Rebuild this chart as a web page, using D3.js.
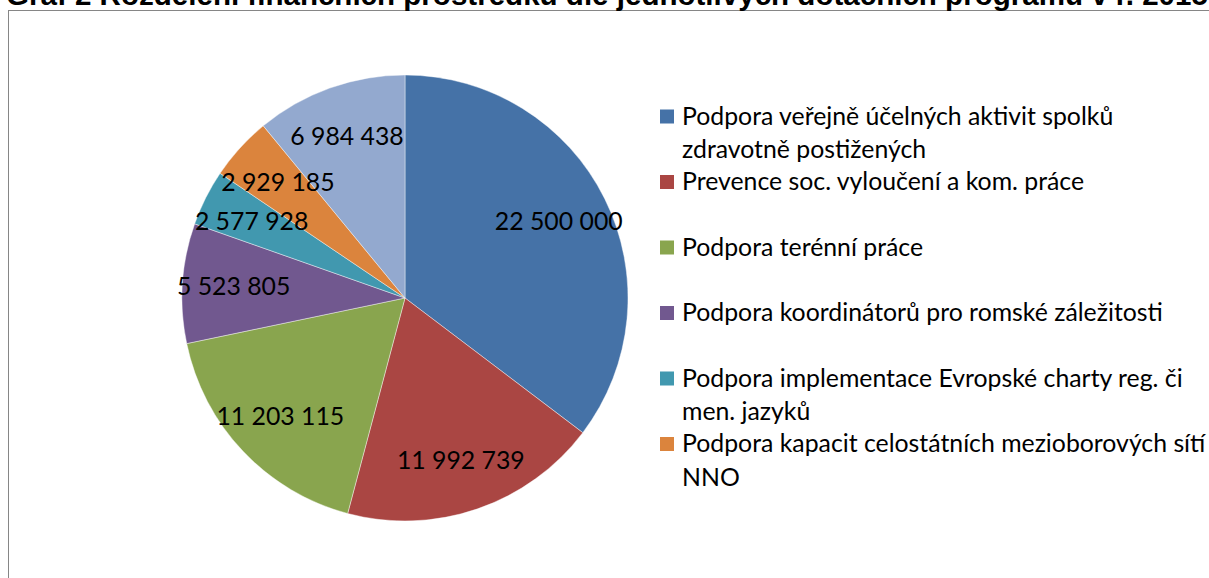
<!DOCTYPE html>
<html><head><meta charset="utf-8">
<script src="https://cdn.jsdelivr.net/npm/d3@7"></script>
<style>html,body{margin:0;padding:0;background:#fff;overflow:hidden}</style>
</head><body>
<svg id="c" width="1209" height="578"></svg>
<script>
const title = "Graf 2 Rozdělení finančních prostředků dle jednotlivých dotačních programů v r. 2015";
const categories = [
  "Podpora veřejně účelných aktivit spolků zdravotně postižených",
  "Prevence soc. vyloučení a kom. práce",
  "Podpora terénní práce",
  "Podpora koordinátorů pro romské záležitosti",
  "Podpora implementace Evropské charty reg. či men. jazyků",
  "Podpora kapacit celostátních mezioborových sítí NNO",
  "Ostatní"
];
const values = [22500000, 11992739, 11203115, 5523805, 2577928, 2929185, 6984438];
const legendLines = [
  ["Podpora veřejně účelných aktivit spolků", "zdravotně postižených"],
  ["Prevence soc. vyloučení a kom. práce"],
  ["Podpora terénní práce"],
  ["Podpora koordinátorů pro romské záležitosti"],
  ["Podpora implementace Evropské charty reg. či", "men. jazyků"],
  ["Podpora kapacit celostátních mezioborových sítí", "NNO"]
];
const colors = ["#4572A7","#AA4643","#89A54E","#71588F","#4198AF","#DB843D","#93A9CF"];

const svg = d3.select("#c");
const font = "Lato, 'Noto Sans', sans-serif";

// frame
svg.append("rect").attr("x",8.5).attr("y",10.5).attr("width",1300).attr("height",700)
  .attr("fill","#fff").attr("stroke","#868686").attr("stroke-width",1);

// title (fit width)
const t = svg.append("text").attr("x",6).attr("y",5)
  .attr("font-family","'Liberation Sans', Arial, sans-serif").attr("font-weight","bold")
  .attr("font-size",20).attr("fill","#000").text(title);
const tw = t.node().getComputedTextLength();
t.attr("font-size", 20*1202/tw);

// pie
const cx = 405, cy = 298, R = 223;
const pie = d3.pie().sort(null).value(d=>d)(values);
const arc = d3.arc().innerRadius(0).outerRadius(R);
const g = svg.append("g").attr("transform",`translate(${cx},${cy})`);
g.selectAll("path").data(pie).join("path")
  .attr("d",arc).attr("fill",(d,i)=>colors[i])
  .attr("stroke","#fff").attr("stroke-width",0.6).attr("stroke-opacity",0.7);

const fmt = v => d3.format(",")(v).replace(/,/g," ");
// measure font scale for legend/labels
const probe = svg.append("text").attr("font-family",font).attr("font-size",26)
  .text("Podpora koordinátorů pro romské záležitosti");
const fs = 26*481/probe.node().getComputedTextLength();
probe.remove();

const labelArc = d3.arc().innerRadius(R*0.77).outerRadius(R*0.77);
g.selectAll("text.lbl").data(pie).join("text").attr("class","lbl")
  .attr("transform",d=>`translate(${labelArc.centroid(d)})`)
  .attr("text-anchor","middle").attr("dy","0.35em")
  .attr("font-family",font).attr("font-size",fs).attr("fill","#000")
  .text(d=>fmt(d.data));

// legend
const lg = svg.append("g");
const entryY = d3.scaleLinear().domain([0,1]).range([124.5,190]);
legendLines.forEach((lines,i)=>{
  const y = entryY(i);
  lg.append("rect").attr("x",660).attr("y",y-15).attr("width",14).attr("height",14).attr("fill",colors[i]);
  lines.forEach((ln,j)=>{
    lg.append("text").attr("x",682).attr("y",y+j*33.5)
      .attr("font-family",font).attr("font-size",fs).attr("fill","#000").text(ln);
  });
});
</script>
</body></html>
